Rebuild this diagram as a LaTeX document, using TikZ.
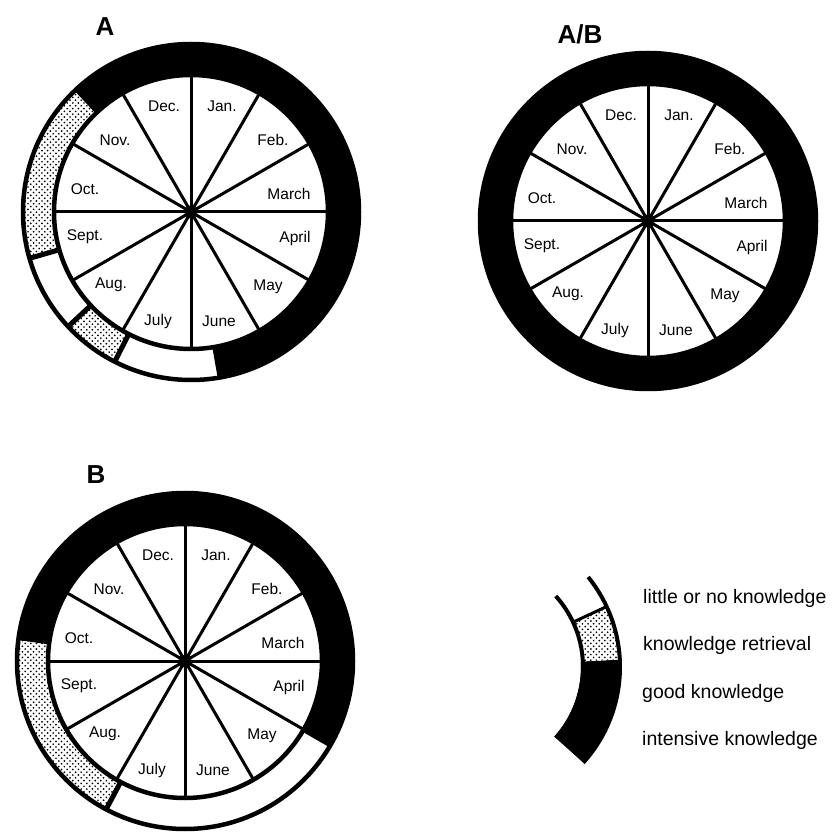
\documentclass[tikz,border=0pt]{standalone}
\usepackage{fontspec}
\setmainfont{Liberation Sans}
\usetikzlibrary{patterns,calc}

% screen-tone dots for the "knowledge retrieval" band
\pgfdeclarepatternformonly{screentone}{\pgfqpoint{-1.2pt}{-1.2pt}}{\pgfqpoint{5.6pt}{5.6pt}}{\pgfqpoint{5.6pt}{5.6pt}}{%
  \pgfpathcircle{\pgfqpoint{0pt}{0pt}}{0.95pt}%
  \pgfpathcircle{\pgfqpoint{2.8pt}{2.8pt}}{0.95pt}%
  \pgfusepath{fill}%
}

\def\wheelrin{137pt}
\def\wheelrout{168pt}

% annular piece of the knowledge ring: center, start angle, end angle, style
\newcommand\ringpart[4]{%
  \path[#4] ($(#1)+(#2:\wheelrin)$) arc[start angle=#2, end angle=#3, radius=\wheelrin]
    -- ($(#1)+(#3:\wheelrout)$) arc[start angle=#3, end angle=#2, radius=\wheelrout] -- cycle;
}
% radial divider between two ring pieces
\newcommand\ringcut[2]{%
  \draw[cut] ($(#1)+(#2:\wheelrin)$) -- ($(#1)+(#2:\wheelrout)$);
}
% month wheel: rims, spokes, hub and month names
\newcommand\monthwheel[1]{%
  \draw[rim] (#1) circle (\wheelrout);
  \draw[rim] (#1) circle (\wheelrin);
  \foreach \a in {0,30,...,330} \draw[spoke] (#1) -- ($(#1)+(\a:\wheelrin)$);
  \fill (#1) circle (6.5pt);
  \node[month] (#1-dec) at ($(#1)+(-27,106)$) {Dec.};
  \node[month] (#1-jan) at ($(#1)+(31,106)$) {Jan.};
  \node[month] (#1-feb) at ($(#1)+(82,72)$) {Feb.};
  \node[month] (#1-mar) at ($(#1)+(98,18)$) {March};
  \node[month] (#1-apr) at ($(#1)+(104,-26)$) {April};
  \node[month] (#1-may) at ($(#1)+(77,-75)$) {May};
  \node[month] (#1-jun) at ($(#1)+(28,-109)$) {June};
  \node[month] (#1-jul) at ($(#1)+(-33,-109)$) {July};
  \node[month] (#1-aug) at ($(#1)+(-80,-73)$) {Aug.};
  \node[month] (#1-sep) at ($(#1)+(-106,-25)$) {Sept.};
  \node[month] (#1-oct) at ($(#1)+(-106,23)$) {Oct.};
  \node[month] (#1-nov) at ($(#1)+(-76,72)$) {Nov.};
}

\begin{document}
\begin{tikzpicture}[x=1pt, y=1pt,
  month/.style={font=\fontsize{15.5}{15.5}\selectfont, inner sep=0pt},
  title/.style={font=\fontsize{26}{26}\selectfont\bfseries, inner sep=0pt},
  key/.style={font=\fontsize{19.5}{19.5}\selectfont, anchor=west, inner sep=0pt},
  spoke/.style={line width=3pt},
  rim/.style={line width=4.5pt},
  cut/.style={line width=5pt},
  intensive/.style={fill=black},
  retrieval/.style={preaction={fill=white}, pattern=screentone},
  little/.style={fill=white},
]
\useasboundingbox (0,0) rectangle (833,831);
\fill[white] (0,0) rectangle (833,831);

% ---------- wheel A ----------
\coordinate (A) at (191,619);
\ringpart{A}{-80}{133}{intensive}
\ringpart{A}{133}{196}{retrieval}
\ringpart{A}{196}{223}{little}
\ringpart{A}{223}{243}{retrieval}
\ringpart{A}{243}{280}{little}
\foreach \c in {133,196,223,243,280} {\ringcut{A}{\c}}
\monthwheel{A}
\node[title] (titleA) at (105,804) {A};

% ---------- wheel A/B ----------
\coordinate (AB) at (648,610);
\ringpart{AB}{0}{360}{intensive}
\monthwheel{AB}
\node[title] (titleAB) at (580,797) {A/B};

% ---------- wheel B ----------
\coordinate (B) at (185,170);
\ringpart{B}{-30}{172}{intensive}
\ringpart{B}{172}{242}{retrieval}
\ringpart{B}{242}{330}{little}
\foreach \c in {172,242,330} {\ringcut{B}{\c}}
\monthwheel{B}
\node[title] (titleB) at (96,356) {B};

% ---------- key ----------
\coordinate (L) at (477,164);
\path[intensive] ($(L)+(-42:104pt)$) arc[start angle=-42, end angle=3, radius=104pt]
  -- ($(L)+(3:144pt)$) arc[start angle=3, end angle=-42, radius=144pt] -- cycle;
\path[retrieval] ($(L)+(3:106pt)$) arc[start angle=3, end angle=25, radius=106pt]
  -- ($(L)+(25:143pt)$) arc[start angle=25, end angle=3, radius=143pt] -- cycle;
\draw[line width=4pt] ($(L)+(-42:106pt)$) arc[start angle=-42, end angle=42, radius=106pt];
\draw[line width=4pt] ($(L)+(-42:143pt)$) arc[start angle=-42, end angle=39, radius=143pt];
\draw[line width=3pt] ($(L)+(25:106pt)$) -- ($(L)+(25:143pt)$);

\node[key] (k-little) at (643,233) {little or no knowledge};
\node[key] (k-retrieval) at (643,186) {knowledge retrieval};
\node[key] (k-good) at (642,138) {good knowledge};
\node[key] (k-intensive) at (642,91) {intensive knowledge};
\end{tikzpicture}
\end{document}
